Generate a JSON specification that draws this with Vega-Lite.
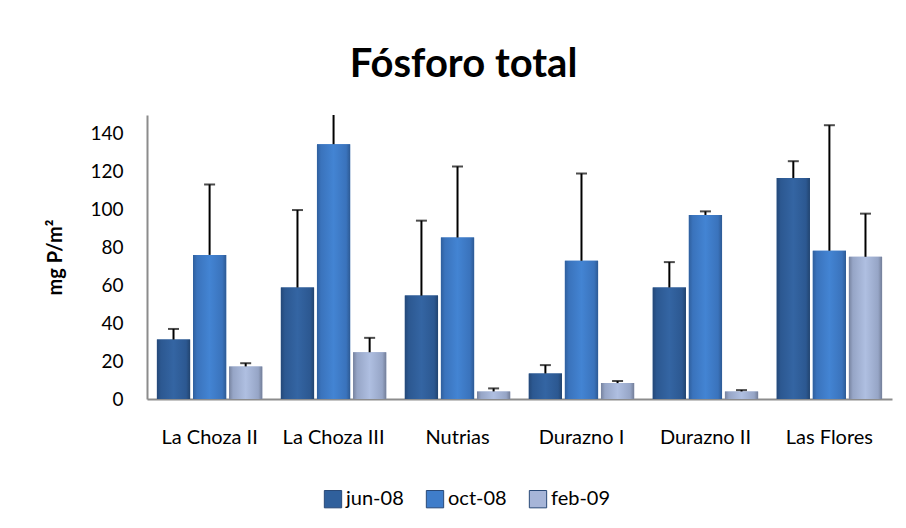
{
  "$schema": "https://vega.github.io/schema/vega-lite/v6.json",
  "width": 745,
  "height": 284,
  "autosize": {"type": "none"},
  "padding": {"left": 147, "top": 115, "right": 14, "bottom": 129},
  "background": "white",
  "title": {
    "text": "Fósforo total",
    "font": "Lato",
    "fontSize": 40,
    "fontWeight": "bold",
    "color": "black",
    "anchor": "middle",
    "dx": -56,
    "offset": 30
  },
  "data": {
    "values": [
      {"site": "La Choza II", "period": "jun-08", "value": 31.4, "upper": 37.0},
      {"site": "La Choza II", "period": "oct-08", "value": 76.1, "upper": 113.3},
      {"site": "La Choza II", "period": "feb-09", "value": 17.2, "upper": 18.9},
      {"site": "La Choza III", "period": "jun-08", "value": 58.9, "upper": 99.8},
      {"site": "La Choza III", "period": "oct-08", "value": 134.6, "upper": 165},
      {"site": "La Choza III", "period": "feb-09", "value": 24.7, "upper": 32.3},
      {"site": "Nutrias", "period": "jun-08", "value": 54.6, "upper": 94.2},
      {"site": "Nutrias", "period": "oct-08", "value": 85.3, "upper": 122.8},
      {"site": "Nutrias", "period": "feb-09", "value": 4.0, "upper": 5.6},
      {"site": "Durazno I", "period": "jun-08", "value": 13.5, "upper": 17.9},
      {"site": "Durazno I", "period": "oct-08", "value": 73.0, "upper": 119.1},
      {"site": "Durazno I", "period": "feb-09", "value": 8.4, "upper": 9.5},
      {"site": "Durazno II", "period": "jun-08", "value": 58.9, "upper": 72.3},
      {"site": "Durazno II", "period": "oct-08", "value": 97.2, "upper": 99.1},
      {"site": "Durazno II", "period": "feb-09", "value": 4.0, "upper": 4.7},
      {"site": "Las Flores", "period": "jun-08", "value": 116.7, "upper": 125.6},
      {"site": "Las Flores", "period": "oct-08", "value": 78.3, "upper": 144.6},
      {"site": "Las Flores", "period": "feb-09", "value": 75.1, "upper": 97.9}
    ]
  },
  "encoding": {
    "x": {
      "field": "site",
      "type": "nominal",
      "sort": null,
      "scale": {"paddingInner": 0.15, "paddingOuter": 0.08},
      "axis": {
        "title": null,
        "labelAngle": 0,
        "labelFont": "Lato",
        "labelFontSize": 20,
        "labelColor": "black",
        "labelPadding": 28,
        "ticks": false,
        "domainColor": "#8c8c8c",
        "domainWidth": 2
      }
    },
    "xOffset": {
      "field": "period",
      "type": "nominal",
      "sort": ["jun-08", "oct-08", "feb-09"],
      "scale": {"paddingInner": 0.08}
    },
    "y": {
      "field": "value",
      "type": "quantitative",
      "scale": {"domain": [0, 150], "nice": false},
      "axis": {
        "title": "mg P/m²",
        "titleFont": "Lato",
        "titleFontSize": 20,
        "titleFontWeight": "bold",
        "titleColor": "black",
        "titlePadding": 24,
        "values": [0, 20, 40, 60, 80, 100, 120, 140],
        "labelFont": "Lato",
        "labelFontSize": 19,
        "labelColor": "black",
        "labelPadding": 24,
        "ticks": false,
        "grid": false,
        "domainColor": "#8c8c8c",
        "domainWidth": 2
      }
    }
  },
  "layer": [
    {
      "mark": {"type": "bar"},
      "encoding": {
        "color": {
          "field": "period",
          "type": "nominal",
          "sort": ["jun-08", "oct-08", "feb-09"],
          "scale": {"domain": ["jun-08", "oct-08", "feb-09"], "range": ["#30609c", "#3f7dca", "#a6b5d8"]},
          "legend": {
            "title": null,
            "orient": "none",
            "direction": "horizontal",
            "legendX": 176,
            "legendY": 374,
            "symbolType": "square",
            "symbolSize": 300,
            "symbolStrokeColor": "#2a4a78",
            "symbolStrokeWidth": 1,
            "labelFont": "Lato",
            "labelFontSize": 20,
            "labelColor": "black",
            "labelOffset": 3,
            "columnPadding": 20
          }
        }
      }
    },
    {
      "transform": [{"filter": "datum.period === 'jun-08'"}],
      "mark": {
        "type": "bar",
        "fill": {"gradient": "linear", "x1": 0, "x2": 1, "y1": 0, "y2": 0, "stops": [
          {"offset": 0, "color": "#244878"},
          {"offset": 0.12, "color": "#2c5891"},
          {"offset": 0.5, "color": "#3465a3"},
          {"offset": 0.88, "color": "#2c5891"},
          {"offset": 1, "color": "#22446f"}
        ]}
      }
    },
    {
      "transform": [{"filter": "datum.period === 'oct-08'"}],
      "mark": {
        "type": "bar",
        "fill": {"gradient": "linear", "x1": 0, "x2": 1, "y1": 0, "y2": 0, "stops": [
          {"offset": 0, "color": "#2f5f9d"},
          {"offset": 0.12, "color": "#3a73bc"},
          {"offset": 0.5, "color": "#4384d3"},
          {"offset": 0.88, "color": "#3a73bc"},
          {"offset": 1, "color": "#2d5a94"}
        ]}
      }
    },
    {
      "transform": [{"filter": "datum.period === 'feb-09'"}],
      "mark": {
        "type": "bar",
        "fill": {"gradient": "linear", "x1": 0, "x2": 1, "y1": 0, "y2": 0, "stops": [
          {"offset": 0, "color": "#76829e"},
          {"offset": 0.12, "color": "#96a5c6"},
          {"offset": 0.5, "color": "#afbfe1"},
          {"offset": 0.88, "color": "#96a5c6"},
          {"offset": 1, "color": "#737e98"}
        ]}
      }
    },
    {
      "mark": {"type": "rule", "color": "black", "strokeWidth": 2, "clip": true},
      "encoding": {
        "y2": {"field": "upper"}
      }
    },
    {
      "mark": {"type": "tick", "color": "black", "thickness": 2, "size": 11, "clip": true},
      "encoding": {
        "y": {"field": "upper", "type": "quantitative"}
      }
    }
  ],
  "config": {
    "view": {"stroke": null}
  }
}
